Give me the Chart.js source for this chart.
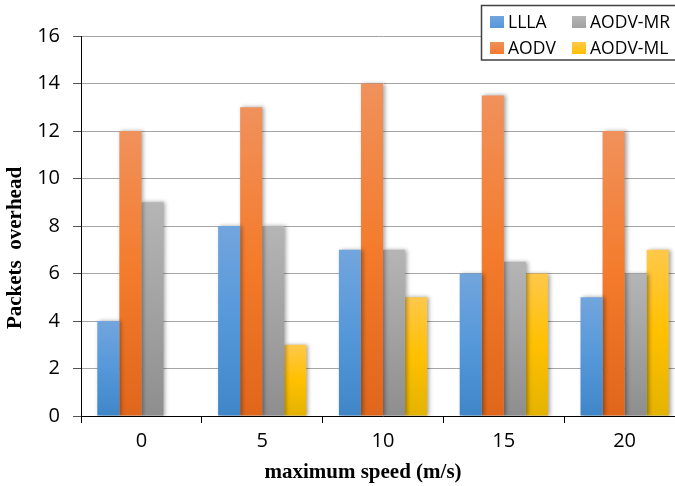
<!DOCTYPE html>
<html lang="en">
<head>
  <meta charset="UTF-8">
  <title>Packets overhead</title>
  <style>
    html, body { margin: 0; padding: 0; background: #fff; overflow: hidden; }
    #wrap { width: 692px; height: 486px; }
  </style>
</head>
<body>
  <div id="wrap">
    <canvas id="myChart" width="692" height="486"></canvas>
  </div>

  <script src="https://cdn.jsdelivr.net/npm/chart.js"></script>
  <script>
    // data
    const speeds = ['0', '5', '10', '15', '20'];
    const seriesNames = ['LLLA', 'AODV', 'AODV-MR', 'AODV-ML'];
    const llla = [4, 8, 7, 6, 5];
    const aodv = [12, 13, 14, 13.5, 12];
    const aodvMR = [9, 8, 7, 6.5, 6];
    const aodvML = [0, 3, 5, 6, 7];
    const yTicks = [0, 2, 4, 6, 8, 10, 12, 14, 16];

    // top / middle / bottom colours of each bar gradient
    const shades = {
      'LLLA':    ['#72a5dd', '#5598da', '#3f86c8'],
      'AODV':    ['#f0915c', '#f47b2b', '#df661b'],
      'AODV-MR': ['#b5b5b5', '#a2a2a2', '#8e8e8e'],
      'AODV-ML': ['#ffc84a', '#ffc000', '#e4b300']
    };

    function barGradient(name) {
      return function (context) {
        const chart = context.chart;
        const yScale = chart.scales.y;
        if (!chart.chartArea || !yScale || context.raw === undefined) {
          return shades[name][1];
        }
        const top = yScale.getPixelForValue(context.raw);
        const bottom = yScale.getPixelForValue(0);
        if (!isFinite(top) || bottom - top < 1) return shades[name][1];
        const g = chart.ctx.createLinearGradient(0, top, 0, bottom);
        g.addColorStop(0, shades[name][0]);
        g.addColorStop(0.5, shades[name][1]);
        g.addColorStop(1, shades[name][2]);
        return g;
      };
    }

    const values = [llla, aodv, aodvMR, aodvML];
    const datasets = seriesNames.map(function (name, i) {
      return {
        label: name,
        data: values[i],
        backgroundColor: barGradient(name),
        borderWidth: 0,
        categoryPercentage: 0.73,
        barPercentage: 1.0
      };
    });

    // soft shadow behind bars
    const barShadow = {
      id: 'barShadow',
      beforeDatasetsDraw(chart) {
        const ctx = chart.ctx;
        ctx.save();
        ctx.shadowColor = 'rgba(0,0,0,0.35)';
        ctx.shadowBlur = 4;
        ctx.shadowOffsetX = 2;
        ctx.shadowOffsetY = 0;
      },
      afterDatasetsDraw(chart) {
        chart.ctx.restore();
      }
    };

    // axis titles and the boxed 2x2 legend
    const extras = {
      id: 'extras',
      afterDraw(chart) {
        const ctx = chart.ctx;
        ctx.save();
        ctx.fillStyle = '#000';
        ctx.font = 'bold 21px "Liberation Serif", "Times New Roman", serif';
        ctx.textAlign = 'center';
        ctx.textBaseline = 'alphabetic';
        ctx.fillText('maximum speed (m/s)', 363, 478);

        ctx.save();
        ctx.translate(16, 248);
        ctx.rotate(-Math.PI / 2);
        ctx.textBaseline = 'middle';
        ctx.fillText('Packets  overhead', 0, 0);
        ctx.restore();

        // legend
        ctx.fillStyle = '#fff';
        ctx.fillRect(481.5, 5.5, 260, 54.5);
        ctx.strokeStyle = '#404040';
        ctx.lineWidth = 1.5;
        ctx.strokeRect(481.5, 5.5, 260, 54.5);

        const spots = [[490, 22], [490, 48], [572, 22], [572, 48]];
        ctx.font = '17.5px "Open Sans", sans-serif';
        ctx.textAlign = 'left';
        ctx.textBaseline = 'middle';
        seriesNames.forEach(function (name, i) {
          const x = spots[i][0], y = spots[i][1];
          const g = ctx.createLinearGradient(0, y - 6, 0, y + 6);
          g.addColorStop(0, shades[name][0]);
          g.addColorStop(1, shades[name][1]);
          ctx.fillStyle = g;
          ctx.fillRect(x, y - 6, 14, 12);
          ctx.fillStyle = '#000';
          ctx.fillText(name, x + 18, y + 1);
        });
        ctx.restore();
      }
    };

    const config = {
      type: 'bar',
      data: { labels: speeds, datasets: datasets },
      options: {
        responsive: false,
        maintainAspectRatio: false,
        animation: false,
        layout: { padding: { top: 36, right: 7, left: 0, bottom: 0 } },
        plugins: {
          legend: { display: false },
          tooltip: { enabled: false }
        },
        scales: {
          x: {
            offset: true,
            grid: {
              offset: true,
              drawOnChartArea: false,
              tickLength: 7,
              tickColor: '#000'
            },
            border: { color: '#000', width: 1 },
            ticks: {
              color: '#000',
              padding: 6,
              font: { family: '"Open Sans", sans-serif', size: 20 }
            },
            afterFit(scale) { scale.height = 70; }
          },
          y: {
            min: 0,
            max: 16,
            afterBuildTicks(scale) {
              scale.ticks = yTicks.map(function (v) { return { value: v }; });
            },
            grid: {
              color: '#a6a6a6',
              tickColor: '#555',
              tickLength: 8
            },
            border: { color: '#000', width: 1 },
            ticks: {
              color: '#000',
              padding: 13,
              font: { family: '"Open Sans", sans-serif', size: 20 }
            },
            afterFit(scale) { scale.width = 81; }
          }
        }
      },
      plugins: [barShadow, extras]
    };

    const myChart = new Chart(document.getElementById('myChart'), config);
  </script>
</body>
</html>
